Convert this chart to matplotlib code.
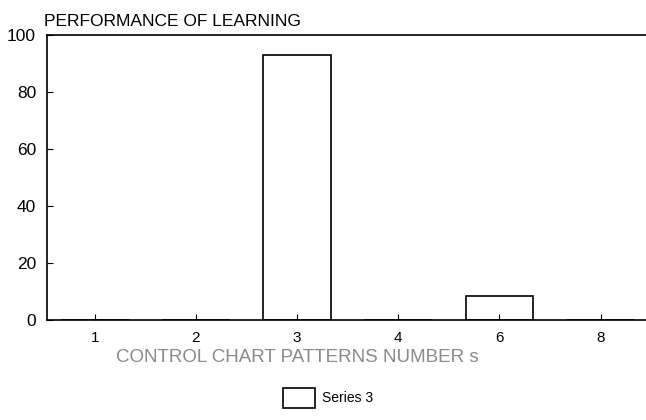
import matplotlib
matplotlib.use("Agg")
import matplotlib.pyplot as plt
import numpy as np

# learning performance per control chart pattern
patterns = [1, 2, 3, 4, 5, 6]
tick_labels = ["1", "2", "3", "4", "6", "8"]
series3 = [0, 0, 93, 0, 8.5, 0]
y_ticks = [0, 20, 40, 60, 80, 100]

plt.rcParams["font.family"] = ["Liberation Sans", "DejaVu Sans"]

fig = plt.figure(figsize=(6.46, 4.2), dpi=100)
ax = fig.add_axes([0.073, 0.238, 0.935, 0.679])

bars = ax.bar(patterns, series3, width=0.67, facecolor="white",
              edgecolor="black", linewidth=1.2, label="Series 3")

ax.set_xlim(0.53, 6.5)
ax.set_ylim(0, 100)
ax.set_xticks(patterns)
ax.set_xticklabels(tick_labels, fontsize=11)
ax.set_yticks(y_ticks)
ax.set_yticklabels([str(v) for v in y_ticks], fontsize=12.5)
ax.tick_params(direction="in", length=4, width=0.8, pad=8)
ax.tick_params(axis="y", pad=8)

for side in ["left", "top", "bottom"]:
    ax.spines[side].set_linewidth(1.2)
ax.spines["right"].set_visible(False)

fig.text(0.068, 0.95, "PERFORMANCE OF LEARNING", fontsize=12.5,
         ha="left", va="center")
ax.set_xlabel("CONTROL CHART PATTERNS NUMBER s", fontsize=13.5,
              color="#8a8a8a", labelpad=3)
ax.xaxis.set_label_coords(0.414, -0.1)

fig.legend(handles=[bars], loc="lower center", bbox_to_anchor=(0.508, 0.0),
           frameon=False, fontsize=10, handlelength=2.3, handleheight=1.8,
           handletextpad=0.5)

fig.savefig("out.png", dpi=100)
